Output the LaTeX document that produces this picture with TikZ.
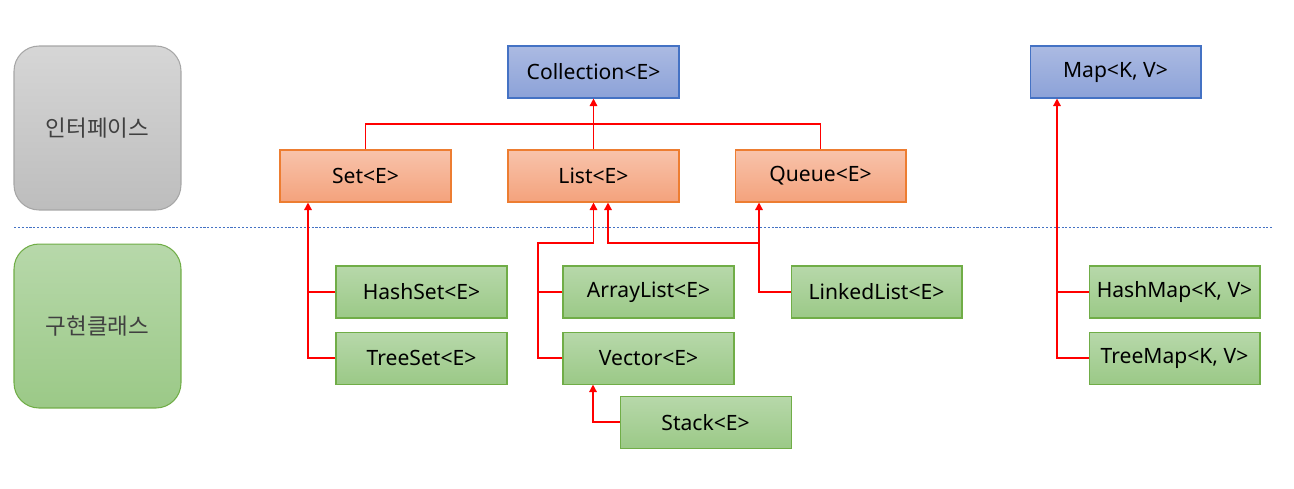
\documentclass[tikz,border=0pt]{standalone}
\usepackage{fontspec}
\setmainfont{Noto Sans}
\newfontfamily\krfont{Noto Sans CJK KR}
\usepackage{tikz}
\usetikzlibrary{arrows.meta, positioning}
\definecolor{ifaceline}{HTML}{4472C4}
\definecolor{ifacetop}{HTML}{ABBAE2}
\definecolor{ifacebot}{HTML}{8CA2D8}
\definecolor{subline}{HTML}{ED7D31}
\definecolor{subtop}{HTML}{F8C3AB}
\definecolor{subbot}{HTML}{F4A27C}
\definecolor{implline}{HTML}{70AD47}
\definecolor{impltop}{HTML}{B7D8AA}
\definecolor{implbot}{HTML}{9BC987}
\definecolor{grayline}{HTML}{A6A6A6}
\definecolor{graytop}{HTML}{D6D6D6}
\definecolor{graybot}{HTML}{BDBDBD}
\tikzset{
  ifacebox/.style={rectangle, draw=ifaceline, line width=0.6pt, top color=ifacetop,
    bottom color=ifacebot, minimum width=3.42cm, minimum height=1.04cm, inner sep=0pt,
    font=\fontsize{12}{14}\selectfont},
  subbox/.style={ifacebox, draw=subline, top color=subtop, bottom color=subbot},
  implbox/.style={ifacebox, draw=implline, top color=impltop, bottom color=implbot},
  groupbox/.style={rectangle, rounded corners=0.5cm, line width=0.6pt, minimum width=3.34cm,
    minimum height=3.28cm, text=black!75, font=\krfont\fontsize{12.8}{15}\selectfont},
  linkline/.style={red, line width=0.85pt},
  arrowline/.style={linkline, -{Triangle[length=1.5mm, width=1.5mm]}},
  splitline/.style={ifaceline, line width=0.5pt, dash pattern=on 1.2pt off 1pt}
}

\begin{document}
\begin{tikzpicture}[x=0.02cm, y=-0.02cm]
  \useasboundingbox (0,0) rectangle (1294,488);

  % left side labels
  \node[groupbox, draw=grayline, top color=graytop, bottom color=graybot] (ifacegroup) at (97.5,128) {인터페이스};
  \node[groupbox, draw=implline, top color=impltop, bottom color=implbot] (implgroup) at (97.5,326) {구현클래스};
  \coordinate (splitl) at (14,227);
  \coordinate (splitr) at (1272,227);
  \draw[splitline] (splitl) -- (splitr);

  % interfaces
  \node[ifacebox] (coll) at (593.5,72) {Collection<E>};
  \node[ifacebox] (map) at (1115.5,72) {Map<K, V>};
  \node[subbox] (list) at (593.5,176) {List<E>};
  \node[subbox, left=1.12cm of list] (set) {Set<E>};
  \node[subbox, right=1.1cm of list] (queue) {Queue<E>};

  % classes
  \node[implbox] (hashset) at (421.5,292) {HashSet<E>};
  \node[implbox, below=0.26cm of hashset] (treeset) {TreeSet<E>};
  \node[implbox] (arraylist) at (648.5,292) {ArrayList<E>};
  \node[implbox, below=0.26cm of arraylist] (vector) {Vector<E>};
  \node[implbox, below right=0.22cm and -2.3cm of vector] (stack) {Stack<E>};
  \node[implbox] (linkedlist) at (876.5,292) {LinkedList<E>};
  \node[implbox] (hashmap) at (1174.5,292) {HashMap<K, V>};
  \node[implbox, below=0.26cm of hashmap] (treemap) {TreeMap<K, V>};

  % bus points
  \coordinate (setbus) at (308,243);
  \coordinate (listbus) at (538,243);
  \coordinate (listjoin) at (593.5,243);
  \coordinate (queuebus) at (759,243);
  \coordinate (llbus) at (608,243);
  \coordinate (stackbus) at (593,243);
  \coordinate (mapbus) at (1057,243);
  \coordinate (collbus) at (593.5,124);

  % Collection
  \draw[linkline] (set.north) |- (collbus) -| (queue.north);
  \draw[arrowline] (list.north) -- (coll.south);

  % Set
  \draw[arrowline] (treeset.west) -| (set.south -| setbus);
  \draw[linkline] (hashset.west) -- (hashset.west -| setbus);

  % List
  \draw[arrowline] (vector.west) -| (listbus) -- (listjoin) -- (list.south);
  \draw[linkline] (arraylist.west) -- (arraylist.west -| listbus);
  \draw[arrowline] (stack.west) -| (vector.south -| stackbus);

  % LinkedList
  \draw[arrowline] (linkedlist.west) -| (queue.south -| queuebus);
  \draw[arrowline] (queuebus) -- (llbus) -- (list.south -| llbus);

  % Map
  \draw[arrowline] (treemap.west) -| (map.south -| mapbus);
  \draw[linkline] (hashmap.west) -- (hashmap.west -| mapbus);
\end{tikzpicture}
\end{document}
